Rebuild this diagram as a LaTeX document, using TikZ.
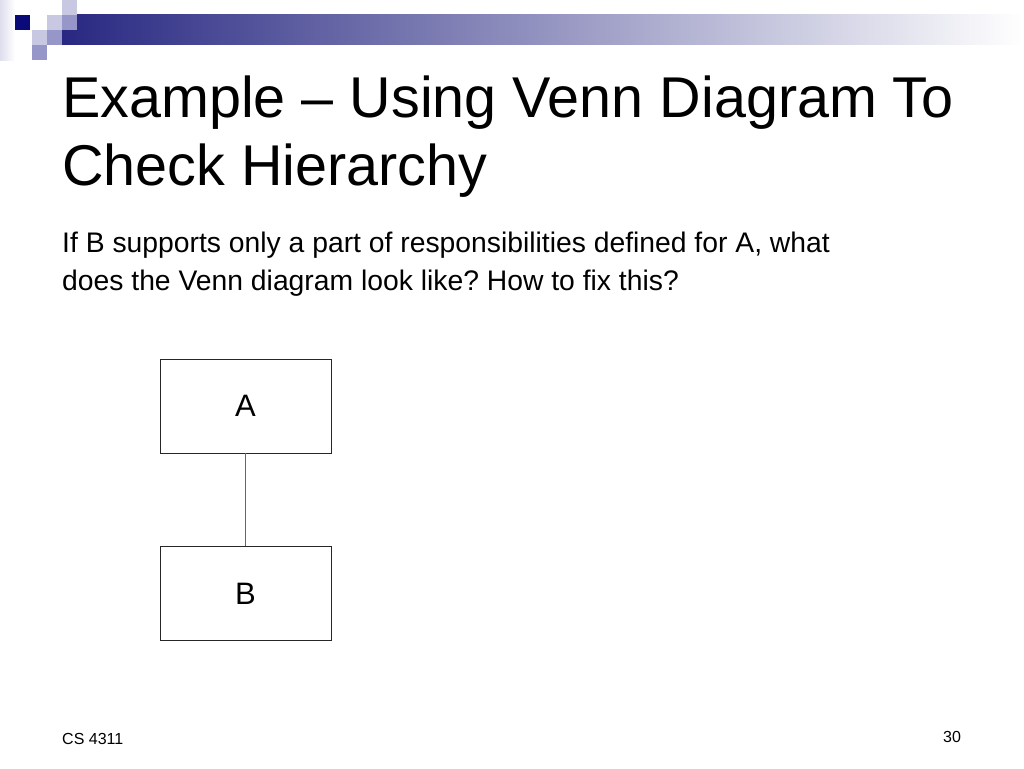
\documentclass[tikz,border=0pt]{standalone}
\usepackage{fontspec}
\setmainfont{Liberation Sans}
\frenchspacing
\begin{document}
\begin{tikzpicture}[x=1pt,y=-1pt,
  box/.style={draw=black!85,line width=0.9pt,minimum width=171pt,minimum height=94pt,inner sep=0pt,font=\fontsize{31}{34}\selectfont},
  conn/.style={draw=black!60,line width=1pt},
  txt/.style={anchor=base west,inner sep=0pt}]
\definecolor{navy}{RGB}{10,10,120}
\definecolor{barstart}{RGB}{40,40,130}
\definecolor{lightsq}{RGB}{200,200,226}
\definecolor{medsq}{RGB}{150,150,200}
\useasboundingbox (0,0) rectangle (1024,768);
\fill[white] (0,0) rectangle (1024,768);
% header decoration
\shade[left color=lightsq!60,right color=white] (0,0) rectangle (15,60);
\shade[left color=barstart,right color=white] (62,15) rectangle (1024,45);
\fill[navy] (15,15) rectangle (30,30);
\fill[lightsq] (62,0) rectangle (77,15);
\fill[lightsq] (47,15) rectangle (62,30);
\fill[medsq] (62,15) rectangle (77,30);
\fill[lightsq] (32,30) rectangle (47,45);
\fill[medsq] (47,30) rectangle (62,45);
\fill[medsq] (32,45) rectangle (47,60);
% title
\node[txt,font=\fontsize{57.5}{66}\selectfont] (t1) at (62,117) {Example – Using Venn Diagram To};
\node[txt,font=\fontsize{57.5}{66}\selectfont] (t2) at (62,185) {Check Hierarchy};
% body
\node[txt,font=\fontsize{28.3}{34}\selectfont] (b1) at (62,252) {If B supports only a part of responsibilities defined for A, what};
\node[txt,font=\fontsize{28.3}{34}\selectfont] (b2) at (62,290) {does the Venn diagram look like? How to fix this?};
% diagram
\node[box] (A) at (245.5,406) {A};
\node[box] (B) at (245.5,593.5) {B};
\draw[conn] (A.south) -- (B.north);
% footer
\node[txt,font=\fontsize{16}{19}\selectfont] (f1) at (62,744) {CS 4311};
\node[txt,font=\fontsize{16}{19}\selectfont] (f2) at (943,742) {30};
\end{tikzpicture}
\end{document}
